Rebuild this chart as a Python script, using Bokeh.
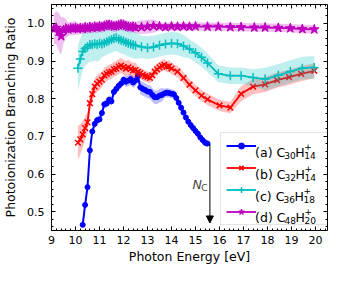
from bokeh.plotting import figure
from bokeh.models import (ColumnDataSource, Range1d, FixedTicker, LinearAxis, Legend,
                          LegendItem, Label, Arrow, NormalHead, PrintfTickFormatter,
                          CustomLabelingPolicy)
from bokeh.embed import file_html
from bokeh.resources import INLINE

# ---------------- data ----------------
a_x = [10.3, 10.4, 10.5, 10.6, 10.7, 10.8, 10.9, 11.0, 11.1, 11.2, 11.3, 11.4, 11.5, 11.6, 11.7, 11.8,
       11.9, 12.0, 12.1, 12.2, 12.3, 12.4, 12.5, 12.6, 12.7, 12.8, 12.9, 13.0, 13.1, 13.2, 13.3, 13.4,
       13.5, 13.6, 13.7, 13.8, 13.9, 14.0, 14.1, 14.2, 14.3, 14.4, 14.5, 14.6, 14.7, 14.8, 14.9, 15.0,
       15.1, 15.2, 15.3, 15.4, 15.5]
a_y = [0.465, 0.518, 0.565, 0.663, 0.713, 0.733, 0.743, 0.745, 0.762, 0.785, 0.787, 0.797, 0.793,
       0.818, 0.826, 0.834, 0.840, 0.850, 0.845, 0.848, 0.852, 0.843, 0.848, 0.860, 0.830, 0.826,
       0.823, 0.819, 0.818, 0.810, 0.804, 0.804, 0.808, 0.810, 0.814, 0.816, 0.815, 0.813, 0.812,
       0.802, 0.789, 0.776, 0.763, 0.750, 0.739, 0.730, 0.722, 0.714, 0.707, 0.697, 0.690, 0.683, 0.681]
a_err = [0.010] * 8 + [0.012] * 10 + [0.015] * 6 + [0.018] * 10 + [0.012] * 9 + [0.010] * 10

b_x = [10.1, 10.2, 10.3, 10.4, 10.5, 10.6, 10.7, 10.8, 10.9, 11.0, 11.1, 11.2, 11.3, 11.4, 11.5, 11.6,
       11.7, 11.8, 11.9, 12.0, 12.1, 12.2, 12.3, 12.4, 12.5, 12.6, 12.7, 12.8, 12.9, 13.0, 13.1, 13.2,
       13.3, 13.4, 13.5, 13.6, 13.7, 13.8, 13.9, 14.0, 14.25, 14.5, 14.75, 15.0, 15.25, 15.5, 16.0,
       16.45, 16.9, 17.4, 17.9, 18.4, 18.9, 19.4, 19.95]
b_y = [0.683, 0.692, 0.705, 0.722, 0.737, 0.788, 0.812, 0.832, 0.840, 0.845, 0.850, 0.862, 0.866,
       0.870, 0.872, 0.878, 0.880, 0.885, 0.888, 0.884, 0.880, 0.883, 0.879, 0.875, 0.876, 0.871,
       0.868, 0.863, 0.860, 0.858, 0.855, 0.862, 0.872, 0.878, 0.883, 0.887, 0.890, 0.885, 0.886,
       0.880, 0.872, 0.855, 0.837, 0.822, 0.808, 0.798, 0.782, 0.776, 0.813, 0.832, 0.838, 0.849,
       0.857, 0.866, 0.874]
b_err = ([0.045, 0.040, 0.035, 0.030, 0.028, 0.025] + [0.022] * 4 + [0.020] * 15 + [0.015] * 15
         + [0.015] * 8 + [0.020] * 7)

c_x = [10.1, 10.2, 10.3, 10.4, 10.5, 10.6, 10.7, 10.8, 10.9, 11.0, 11.1, 11.2, 11.3, 11.4, 11.5, 11.6,
       11.7, 11.8, 11.9, 12.0, 12.1, 12.2, 12.3, 12.4, 12.5, 12.75, 13.0, 13.25, 13.5, 13.75, 14.0,
       14.25, 14.5, 14.75, 15.0, 15.25, 15.5, 15.95, 16.45, 16.9, 17.4, 17.9, 18.45, 18.95, 19.45, 19.95]
c_y = [0.881, 0.905, 0.925, 0.933, 0.938, 0.944, 0.943, 0.946, 0.944, 0.947, 0.945, 0.948, 0.951,
       0.954, 0.957, 0.960, 0.962, 0.958, 0.955, 0.953, 0.950, 0.947, 0.945, 0.943, 0.941, 0.938,
       0.935, 0.937, 0.942, 0.945, 0.947, 0.946, 0.940, 0.932, 0.922, 0.910, 0.895, 0.866, 0.861,
       0.861, 0.856, 0.852, 0.862, 0.872, 0.881, 0.883]
c_err = ([0.060, 0.055, 0.050] + [0.045] * 7 + [0.035] * 15 + [0.030] * 8 + [0.025] * 4
         + [0.022] * 4 + [0.030] * 5)

d_x = [9.1, 9.2, 9.3, 9.4, 9.5, 9.6, 9.7, 9.8, 9.9, 10.0, 10.1, 10.2, 10.3, 10.4, 10.5, 10.6, 10.7,
       10.8, 10.9, 11.0, 11.1, 11.2, 11.3, 11.4, 11.5, 11.6, 11.7, 11.8, 11.9, 12.0, 12.1, 12.2, 12.3,
       12.4, 12.5, 12.75, 13.0, 13.25, 13.5, 13.75, 14.0, 14.25, 14.5, 14.75, 15.0, 15.5, 15.95, 16.45,
       16.9, 17.45, 17.9, 18.45, 18.95, 19.45, 19.95]
d_y = [0.985, 0.988, 0.978, 0.966, 0.982, 0.986, 0.984, 0.987, 0.986, 0.988,
       0.985, 0.987, 0.986, 0.989, 0.987, 0.990, 0.988, 0.991, 0.989, 0.992,
       0.990, 0.993, 0.995, 0.996, 0.994, 0.992, 0.993, 0.995, 0.997, 0.996,
       0.993, 0.991, 0.990, 0.991, 0.989,
       0.990, 0.991, 0.993, 0.992, 0.990, 0.992, 0.991, 0.992, 0.991, 0.992, 0.991, 0.991, 0.990,
       0.990, 0.989, 0.989, 0.988, 0.987, 0.985, 0.984]
d_err = ([0.040, 0.045, 0.050, 0.050, 0.035, 0.025] + [0.018] * 4 + [0.015] * 25 + [0.018] * 3
         + [0.011] * 17)

series_names = [("(a) C", "30", "14"), ("(b) C", "32", "14"), ("(c) C", "36", "18"), ("(d) C", "48", "20")]
series_colors = ["#0000ff", "#ff0000", "#00bfbf", "#bf00bf"]

x_ticks = [9, 10, 11, 12, 13, 14, 15, 16, 17, 18, 19, 20]
y_ticks = [0.5, 0.6, 0.7, 0.8, 0.9, 1.0]

# N_C arrow annotation
arrow_x = 15.6
arrow_y_start = 0.68
arrow_y_end = 0.47

# ---------------- layout ----------------
XR = (9.0, 20.5)
YR = (0.45, 1.05)
FONT = "DejaVu Sans"

p = figure(width=331, height=266, output_backend="svg", toolbar_location=None,
           x_range=Range1d(*XR), y_range=Range1d(*YR),
           min_border_left=44, min_border_right=1, min_border_top=1, min_border_bottom=35,
           background_fill_color="white", border_fill_color="white")
p.xgrid.visible = False
p.ygrid.visible = False
p.outline_line_color = "black"
p.outline_line_width = 1

x_minor = [round(9 + 0.2 * i, 2) for i in range(0, 58)]
y_minor = [round(0.46 + 0.02 * i, 2) for i in range(0, 30)]

no_labels = CustomLabelingPolicy(code="""
for (const i of indices) indices.unset(i)
return indices
""")


def style_axis(ax, ticks, minor, show):
    ax.ticker = FixedTicker(ticks=ticks, minor_ticks=minor)
    ax.major_tick_in = 4
    ax.major_tick_out = 0
    ax.minor_tick_in = 2
    ax.minor_tick_out = 0
    ax.axis_line_color = None
    ax.major_tick_line_color = "black"
    ax.minor_tick_line_color = "black"
    if show:
        ax.major_label_text_font = FONT
        ax.major_label_text_font_size = "11px"
        ax.major_label_text_color = "black"
        ax.axis_label_text_font = FONT
        ax.axis_label_text_font_size = "12.5px"
        ax.axis_label_text_font_style = "normal"
        ax.axis_label_text_color = "black"
    else:
        ax.major_label_policy = no_labels
        ax.major_label_text_font_size = "1px"
        ax.major_label_standoff = 0


style_axis(p.xaxis[0], x_ticks, x_minor, True)
style_axis(p.yaxis[0], y_ticks, y_minor, True)
p.yaxis[0].formatter = PrintfTickFormatter(format="%.1f")
p.xaxis[0].axis_label = "Photon Energy [eV]"
p.yaxis[0].axis_label = "Photoionization Branching Ratio"
p.xaxis[0].major_label_standoff = 5
p.xaxis[0].axis_label_standoff = 2
p.yaxis[0].major_label_standoff = 7
p.yaxis[0].axis_label_standoff = 6

top_ax = LinearAxis()
style_axis(top_ax, x_ticks, x_minor, False)
p.add_layout(top_ax, "above")
right_ax = LinearAxis()
style_axis(right_ax, y_ticks, y_minor, False)
p.add_layout(right_ax, "right")


def draw(x, y, e, color, marker, size, lw, mlw):
    src = ColumnDataSource(dict(x=x, y=y, lo=[a - b for a, b in zip(y, e)], hi=[a + b for a, b in zip(y, e)]))
    p.varea(x="x", y1="lo", y2="hi", source=src, fill_color=color, fill_alpha=0.25)
    ln = p.line("x", "y", source=src, line_color=color, line_width=lw)
    sc = p.scatter("x", "y", source=src, marker=marker, size=size, fill_color=color,
                   line_color=color, line_width=mlw)
    return [ln, sc]


rends = [
    draw(a_x, a_y, a_err, series_colors[0], "circle", 5, 2, 1),
    draw(b_x, b_y, b_err, series_colors[1], "x", 8, 1.8, 1.5),
    draw(c_x, c_y, c_err, series_colors[2], "cross", 9, 1.8, 1.5),
    draw(d_x, d_y, d_err, series_colors[3], "star", 10, 1.8, 1),
]

# legend frame (pixel layout of the page)
FR_L, FR_B, FR_W, FR_H = 52, 239, 286, 230
LEG_L, LEG_T = 221, 143
PAD, GW, GH, SP, STAND = 5, 30, 15, 7, 7

legend = Legend(items=[LegendItem(label=" ", renderers=r) for r in rends],
                location=(LEG_L - FR_L, FR_B - (LEG_T + 2 * PAD + 4 * GH + 3 * SP)),
                glyph_width=GW, glyph_height=GH, label_height=GH, label_width=66,
                label_standoff=STAND, padding=PAD, spacing=SP, margin=0,
                border_line_color="#cccccc", border_line_width=1,
                background_fill_color="white", background_fill_alpha=0.0,
                label_text_font_size="12px")
p.add_layout(legend)


def px2x(px):
    return XR[0] + (px - FR_L) * (XR[1] - XR[0]) / FR_W


def px2y(py):
    return YR[0] + (FR_B - py) * (YR[1] - YR[0]) / FR_H


EM = {"(": 0.390, ")": 0.390, "a": 0.613, "b": 0.635, "c": 0.550, "d": 0.635, " ": 0.318,
      "C": 0.698, "H": 0.752, "0": 0.636, "1": 0.636, "2": 0.636, "3": 0.636, "4": 0.636,
      "5": 0.636, "6": 0.636, "7": 0.636, "8": 0.636, "9": 0.636}


def tw(s, fs):
    return sum(EM.get(ch, 0.6) for ch in s) * fs


MAIN_FS, SUB_FS = 12.5, 9.0
text_x0 = LEG_L + PAD + GW + STAND


def add_text(px, py, s, fs, style="normal"):
    p.add_layout(Label(x=px2x(px), y=px2y(py), text=s, text_font=FONT,
                       text_font_size=f"{fs}px", text_font_style=style,
                       text_color="black", text_baseline="alphabetic", text_align="left"))


for i, (head, sub1, sub2) in enumerate(series_names):
    yc = LEG_T + PAD + GH / 2 + i * (GH + SP)
    base = yc + 4.5
    x = text_x0
    add_text(x, base, head, MAIN_FS)
    x += tw(head, MAIN_FS)
    add_text(x, base + 3, sub1, SUB_FS)
    x += tw(sub1, SUB_FS)
    add_text(x, base, "H", MAIN_FS)
    x += tw("H", MAIN_FS)
    add_text(x, base + 3, sub2, SUB_FS)
    add_text(x, yc - 1.5, "+", SUB_FS)

# N_C arrow and label
p.add_layout(Arrow(end=NormalHead(size=7, fill_color="black", line_color="black", line_width=1),
                   x_start=arrow_x, y_start=arrow_y_start, x_end=arrow_x, y_end=arrow_y_end,
                   line_color="black", line_width=1))
p.add_layout(Label(x=14.87, y=0.572, text="N", text_font=FONT, text_font_size="12.5px",
                   text_font_style="italic", text_baseline="alphabetic"))
p.add_layout(Label(x=15.24, y=0.564, text="C", text_font=FONT, text_font_size="9px",
                   text_baseline="alphabetic"))

open("out.html", "w").write(file_html(p, INLINE))
